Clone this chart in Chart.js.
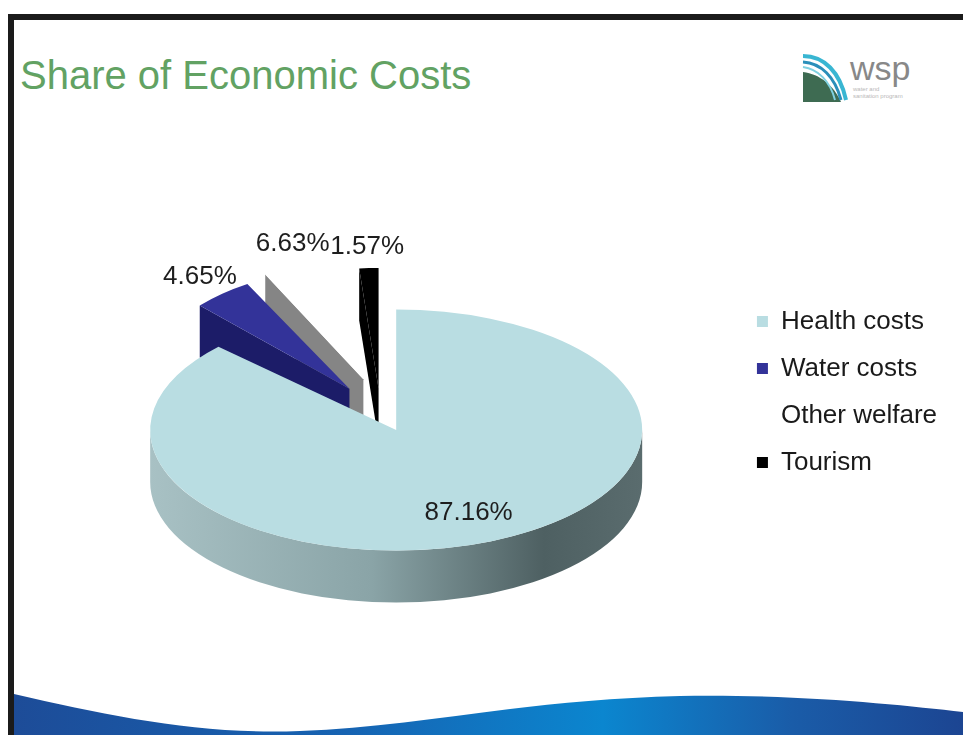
<!DOCTYPE html>
<html>
<head>
<meta charset="utf-8">
<title>Share of Economic Costs</title>
<script src="https://cdn.jsdelivr.net/npm/chart.js@4.4.1/dist/chart.umd.min.js"></script>
<style>
  html, body { margin: 0; padding: 0; background: #fff; }
  #slide { position: relative; width: 963px; height: 735px; overflow: hidden; background: #fff; font-family: 'Liberation Sans', Arial, sans-serif; }
  #frame { position: absolute; left: 8px; top: 14px; right: -20px; bottom: -20px; border-top: 6px solid #1b1b1b; border-left: 6px solid #1b1b1b; }
  #title { position: absolute; left: 20px; top: 55px; margin: 0; font-size: 40px; line-height: 40px; font-weight: normal; color: #62a263; white-space: nowrap; }
  #logo { position: absolute; left: 800px; top: 50px; }
  #wave { position: absolute; left: 0; top: 0; }
  #chart { position: absolute; left: 0; top: 0; }
</style>
</head>
<body>
<div id="slide">
  <svg id="wave" width="963" height="735">
    <defs>
      <linearGradient id="sea" x1="0" y1="0" x2="1" y2="0">
        <stop offset="0" stop-color="#1d4c98"/>
        <stop offset="0.35" stop-color="#1663b2"/>
        <stop offset="0.62" stop-color="#0b86cf"/>
        <stop offset="0.82" stop-color="#1a5ca8"/>
        <stop offset="1" stop-color="#1c4592"/>
      </linearGradient>
    </defs>
    <path d="M14 694 C110 716 200 735 300 731 C420 727 520 700 680 696 C800 694 900 705 963 712 L963 735 L14 735 Z" fill="url(#sea)"/>
  </svg>
  <div id="frame"></div>
  <h1 id="title">Share of Economic Costs</h1>
  <svg id="logo" width="140" height="60">
    <path d="M3 52 L3 22 C20 24 34 36 41 52 Z" fill="#3e6b52"/>
    <path d="M3 6 C24 6 40 22 46 50" stroke="#39b6d2" stroke-width="4" fill="none"/>
    <path d="M3 12 C21 13 35 27 41 50" stroke="#2b8fba" stroke-width="3" fill="none"/>
    <path d="M3 17 C18 19 30 31 35 50" stroke="#7fd0e0" stroke-width="2" fill="none"/>
    <text x="50" y="30" font-family="'Liberation Sans', Arial, sans-serif" font-size="34" fill="#888888">wsp</text>
    <text x="53" y="41" font-family="'Liberation Sans', Arial, sans-serif" font-size="6" fill="#b8b8b8">water and</text>
    <text x="53" y="48" font-family="'Liberation Sans', Arial, sans-serif" font-size="6" fill="#b8b8b8">sanitation program</text>
  </svg>
  <canvas id="chart" width="963" height="735"></canvas>
</div>
<script>
const categories = ['Health costs', 'Water costs', 'Other welfare', 'Tourism'];
const shares = [87.16, 4.65, 6.63, 1.57];

const topColors = ['#b9dde2', '#333399', '#ffffff', '#000000'];
const wallColors = [null, '#1c1c68', '#858585', '#000000'];
const explode = [40, 60, 70, 48];

// fake 3d: squash the disc, push it down a little, give it an edge
const TILT = 0.49;
const DEPTH = 52;
const LIFT = 20;
const PERSP = 0.2;   // slices at the back get narrower
const FONT = "'Liberation Sans', Arial, sans-serif";

function frameOf(el, i) {
  const mid = (el.startAngle + el.endAngle) / 2;
  return {
    cx: el.x + Math.cos(mid) * explode[i],
    cy: el.y + LIFT + Math.sin(mid) * explode[i] * TILT,
    r: el.outerRadius,
    a0: el.startAngle,
    a1: el.endAngle,
    mid: mid,
    sq: 1 + PERSP * Math.min(0, Math.sin(mid))
  };
}

function drawWalls(ctx, f, fill) {
  const ry = f.r * TILT;
  ctx.fillStyle = fill;
  // rim, only the front half faces us
  const lo = Math.max(f.a0, 0), hi = Math.min(f.a1, Math.PI);
  if (hi > lo) {
    ctx.beginPath();
    ctx.ellipse(f.cx, f.cy, f.r, ry, 0, lo, hi);
    ctx.ellipse(f.cx, f.cy + DEPTH, f.r, ry, 0, hi, lo, true);
    ctx.closePath();
    ctx.fill();
  }
  const wall = (a) => {
    const px = f.cx + Math.cos(a) * f.r;
    const py = f.cy + Math.sin(a) * ry;
    ctx.beginPath();
    ctx.moveTo(f.cx, f.cy);
    ctx.lineTo(px, py);
    ctx.lineTo(px, py + DEPTH);
    ctx.lineTo(f.cx, f.cy + DEPTH);
    ctx.closePath();
    ctx.fill();
  };
  if (Math.cos(f.a0) < 0) wall(f.a0);
  if (Math.cos(f.a1) > 0) wall(f.a1);
}

const pie3d = {
  id: 'pie3d',
  beforeDatasetDraw(chart, args) {
    const ctx = chart.ctx;
    const arcs = args.meta.data;
    // back slices first, the big one last
    [3, 2, 1, 0].forEach(i => {
      const el = arcs[i];
      const f = frameOf(el, i);
      let fill = wallColors[i];
      if (!fill) {
        fill = ctx.createLinearGradient(f.cx - f.r, 0, f.cx + f.r, 0);
        fill.addColorStop(0, '#a8c1c4');
        fill.addColorStop(0.45, '#8aa4a7');
        fill.addColorStop(0.8, '#4e6062');
        fill.addColorStop(1, '#5a6c6e');
      }
      ctx.save();
      ctx.translate(el.x, 0);
      ctx.scale(f.sq, 1);
      ctx.translate(-el.x, 0);
      drawWalls(ctx, f, fill);
      ctx.translate(f.cx - el.x, f.cy);
      ctx.scale(1, TILT);
      ctx.translate(0, -el.y);
      el.draw(ctx);
      ctx.restore();
    });
    return false;
  },
  afterDatasetsDraw(chart) {
    const ctx = chart.ctx;
    const arcs = chart.getDatasetMeta(0).data;
    ctx.save();
    ctx.font = '26px ' + FONT;
    ctx.fillStyle = '#1e1e1e';
    ctx.textAlign = 'center';
    ctx.textBaseline = 'middle';
    arcs.forEach((el, i) => {
      const f = frameOf(el, i);
      const rr = shares[i] > 50 ? f.r * 0.75 : f.r + 43;
      const x = f.cx + Math.cos(f.mid) * rr;
      ctx.fillText(shares[i].toFixed(2) + '%',
        el.x + (x - el.x) * f.sq,
        f.cy + Math.sin(f.mid) * rr * TILT);
    });
    ctx.restore();
  }
};

new Chart(document.getElementById('chart'), {
  type: 'pie',
  data: {
    labels: categories,
    datasets: [{
      data: shares,
      backgroundColor: topColors,
      borderWidth: 0,
      radius: 246,
      clip: false
    }]
  },
  options: {
    responsive: false,
    animation: false,
    devicePixelRatio: 1,
    events: [],
    layout: { padding: { left: 25, right: 16, top: 100, bottom: 51 } },
    plugins: {
      tooltip: { enabled: false },
      legend: {
        position: 'right',
        labels: {
          boxWidth: 11,
          boxHeight: 11,
          padding: 21,
          color: '#1a1a1a',
          font: { family: FONT, size: 26 }
        }
      }
    }
  },
  plugins: [pie3d]
});
</script>
</body>
</html>
